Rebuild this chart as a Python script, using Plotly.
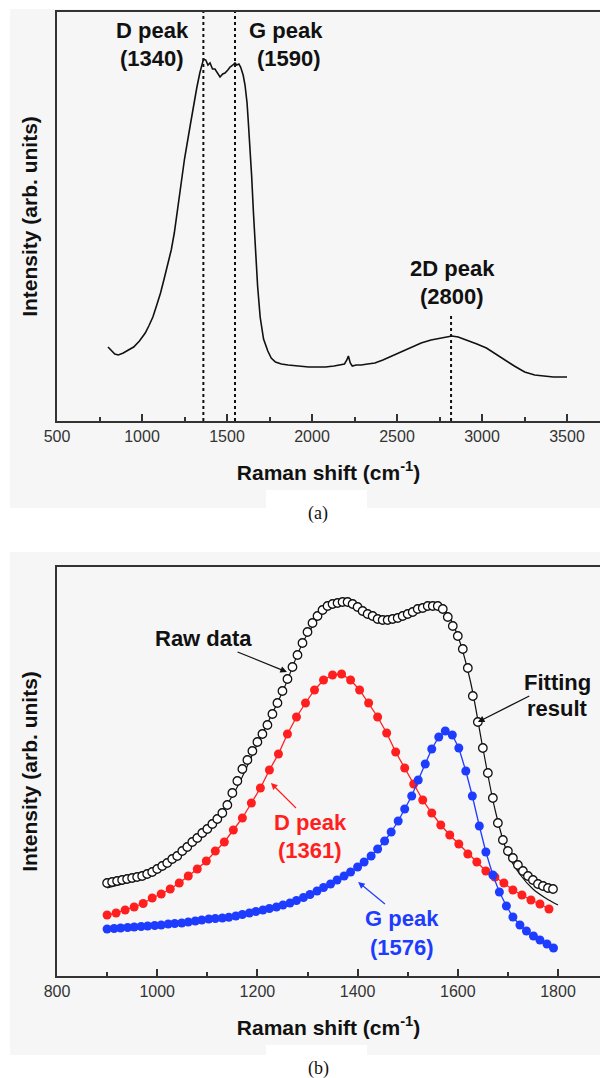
import plotly.graph_objects as go

W, H = 600, 1078

# ---------------- Panel (a) data : Raman spectrum ----------------
a_shift = [800, 820, 840, 861, 890, 920, 951, 985, 1019, 1040, 1064, 1085, 1109, 1130, 1154, 1172,
           1190, 1224, 1250, 1282, 1300, 1322, 1340, 1351, 1362, 1375, 1388, 1400, 1415, 1429, 1445,
           1459, 1475, 1488, 1505, 1518, 1535, 1547, 1557, 1570, 1580, 1595, 1606, 1618, 1625, 1635,
           1645, 1655, 1665, 1680, 1695, 1715, 1740, 1760, 1785, 1820, 1860, 1921, 1980, 2030, 2079,
           2130, 2170, 2191, 2205, 2214, 2225, 2237, 2260, 2290, 2327, 2370, 2417, 2470, 2530, 2590,
           2642, 2700, 2755, 2790, 2823, 2860, 2913, 2970, 3026, 3080, 3139, 3190, 3251, 3310, 3364,
           3420, 3470, 3500]
a_int = [74, 70, 67, 66, 68, 71, 74, 80, 88, 95, 104, 115, 128, 142, 158, 171,
         188, 230, 262, 294, 313, 333, 348, 356, 362, 361, 356, 358, 352, 352, 348,
         344, 347, 348, 351, 354, 356, 358, 356, 357, 354, 346, 336, 318, 300, 275,
         245, 210, 178, 135, 104, 82, 70, 63, 59, 57, 56, 55, 54, 54, 54,
         55, 56, 57, 61, 65, 58, 55, 56, 56, 57, 58, 61, 65, 69, 74,
         78, 81, 83, 84, 85, 84, 81, 77, 73, 67, 61, 55, 49, 46, 45,
         44, 44, 44]
a_peak_pos = [1361, 1547, 2818]          # dotted marker lines
a_peak_top = [409, 409, 106]
a_ticks = [500, 1000, 1500, 2000, 2500, 3000, 3500]

# ---------------- Panel (b) data : peak fitting ----------------
raw_x = [900, 910, 920, 930, 940, 950, 960, 970, 980, 990, 1000, 1010, 1020, 1030, 1040, 1050,
         1060, 1070, 1080, 1090, 1100, 1110, 1120, 1130, 1140, 1150, 1160, 1170, 1180, 1190, 1200,
         1210, 1220, 1230, 1240, 1250, 1260, 1270, 1280, 1290, 1300, 1310, 1320, 1330, 1340, 1350,
         1360, 1370, 1380, 1390, 1400, 1410, 1420, 1430, 1440, 1450, 1460, 1470, 1480, 1490, 1500,
         1510, 1520, 1530, 1540, 1550, 1560, 1570, 1580, 1590, 1600, 1610, 1620, 1630, 1640, 1650,
         1660, 1670, 1680, 1690, 1700, 1710, 1720, 1730, 1740, 1750, 1760, 1770, 1780, 1790]
raw_y = [93, 94, 95, 96, 97, 98, 99, 100, 102, 104, 107, 110, 113, 117, 120, 125,
         129, 134, 138, 143, 147, 152, 157, 163, 171, 183, 195, 207, 216, 225, 234,
         242, 251, 262, 273, 285, 297, 309, 321, 333, 344, 353, 360, 366, 370, 372,
         373, 374, 374, 372, 369, 365, 362, 360, 357, 356, 356, 357, 358, 360, 362,
         364, 367, 368, 370, 370, 370, 367, 359, 350, 340, 327, 308, 280, 254, 228,
         203, 178, 153, 136, 125, 118, 111, 105, 100, 96, 92, 90, 88, 87]

fit_x = [900, 950, 1000, 1050, 1100, 1150, 1200, 1250, 1300, 1350, 1400, 1450, 1500, 1550, 1575,
         1600, 1625, 1650, 1675, 1700, 1725, 1750, 1775, 1800]
fit_y = [88, 95, 105, 123, 146, 180, 232, 284, 342, 370, 368, 357, 362, 369, 365,
         340, 295, 228, 165, 122, 101, 87, 78, 71]

d_x = [900, 918, 936, 954, 972, 990, 1008, 1026, 1044, 1062, 1080, 1098, 1116, 1134, 1152, 1170,
       1188, 1206, 1224, 1242, 1260, 1278, 1296, 1314, 1332, 1350, 1368, 1386, 1404, 1422, 1440,
       1458, 1476, 1494, 1512, 1530, 1548, 1566, 1584, 1602, 1620, 1638, 1656, 1674, 1692, 1710,
       1728, 1746, 1764, 1782]
d_y = [61, 63, 66, 69, 72.5, 78, 82, 87, 93, 100, 107, 115, 125, 134, 146, 158,
       173, 188, 206, 222, 242, 259, 273, 286, 296, 301, 302, 296, 286, 273, 259,
       243, 224, 208, 192, 176, 163, 151, 141, 132, 122, 114, 105, 99, 93, 86,
       81, 76, 72, 67]

g_x = [900, 914, 927, 941, 954, 968, 981, 995, 1008, 1022, 1035, 1049, 1062, 1076, 1089, 1103,
       1116, 1130, 1143, 1157, 1170, 1184, 1197, 1211, 1224, 1238, 1251, 1265, 1278, 1292, 1305,
       1319, 1332, 1346, 1359, 1373, 1386, 1400, 1413, 1427, 1440, 1454, 1467, 1481, 1494, 1508,
       1521, 1535, 1548, 1562, 1575, 1589, 1602, 1616, 1629, 1643, 1656, 1670, 1683, 1697, 1710,
       1724, 1737, 1751, 1764, 1778, 1791]
g_y = [47, 47.5, 48, 48.5, 49, 49.5, 50, 50.5, 51, 52, 52.5, 53, 54, 55, 56, 57,
       57.5, 58, 58.7, 60, 61.5, 63, 64.5, 66, 67.5, 69, 71, 73, 75.5, 78.5, 81.5,
       85, 88.5, 92, 96, 100, 104, 109, 114, 120, 127, 135, 144, 155, 167, 180,
       196, 212, 227, 239, 245, 241, 228, 205, 180, 150, 124, 101, 84, 70, 59,
       51, 45, 40, 36, 32, 28]
b_ticks = [800, 1000, 1200, 1400, 1600, 1800]

# ---------------- styling ----------------
SANS = "Arial, 'Liberation Sans', Helvetica, sans-serif"
SERIF = "'Times New Roman', 'Liberation Serif', serif"
RED = "#ff1f1f"
BLUE = "#1d3cff"
AX = "#333333"
LBL = 22


def PX(x):
    return x / W


def PY(y):
    return 1 - y / H


fig = go.Figure()

fig.add_trace(go.Scatter(x=a_shift, y=a_int, mode="lines", line=dict(color="#111111", width=1.6),
                         xaxis="x", yaxis="y", showlegend=False))

fig.add_trace(go.Scatter(x=fit_x, y=fit_y, mode="lines", line=dict(color="#111111", width=1.2, shape="spline"),
                         xaxis="x2", yaxis="y2", showlegend=False))
fig.add_trace(go.Scatter(x=d_x, y=d_y, mode="lines+markers", line=dict(color=RED, width=1.3),
                         marker=dict(color=RED, size=9), xaxis="x2", yaxis="y2", showlegend=False))
fig.add_trace(go.Scatter(x=g_x, y=g_y, mode="lines+markers", line=dict(color=BLUE, width=1.3),
                         marker=dict(color=BLUE, size=9), xaxis="x2", yaxis="y2", showlegend=False))
fig.add_trace(go.Scatter(x=raw_x, y=raw_y, mode="markers",
                         marker=dict(color="white", size=8.5, line=dict(color="#111111", width=1.3)),
                         xaxis="x2", yaxis="y2", showlegend=False))

shapes = [
    dict(type="rect", xref="paper", yref="paper", x0=PX(10), x1=1, y0=PY(508), y1=PY(9),
         fillcolor="#f6f6f6", line=dict(width=0), layer="below"),
    dict(type="rect", xref="paper", yref="paper", x0=PX(10), x1=1, y0=PY(1055), y1=PY(552),
         fillcolor="#f6f6f6", line=dict(width=0), layer="below"),
    dict(type="rect", xref="paper", yref="paper", x0=PX(266), x1=PX(367), y0=PY(530), y1=PY(490),
         fillcolor="white", line=dict(width=0), layer="below"),
    dict(type="rect", xref="paper", yref="paper", x0=PX(266), x1=PX(367), y0=PY(1078), y1=PY(1045),
         fillcolor="white", line=dict(width=0), layer="below"),
]
for xp, top in zip(a_peak_pos, a_peak_top):
    shapes.append(dict(type="line", xref="x", yref="y", x0=xp, x1=xp, y0=0, y1=top,
                       line=dict(color="#111111", width=2, dash="dot")))

ann = []


def txt(s, x, y, size=LBL, color="#111111", bold=True, family=SANS):
    ann.append(dict(text=("<b>%s</b>" % s) if bold else s, xref="paper", yref="paper",
                    x=PX(x), y=PY(y), xanchor="center", yanchor="middle", showarrow=False,
                    font=dict(family=family, size=size, color=color)))


def arrow_txt(s, tx, ty, hx, hy, color="#111111"):
    # text centred at pixel (tx, ty); arrow head at data point (hx, hy) of panel (b)
    hpx = 57 + (hx - 800) * 501 / 1000
    hpy = 976 - hy
    ann.append(dict(text="<b>%s</b>" % s, x=hx, y=hy, xref="x2", yref="y2",
                    ax=tx - hpx, ay=ty - hpy, showarrow=True, arrowhead=2, arrowsize=1.1,
                    arrowwidth=1.2, arrowcolor=color,
                    font=dict(family=SANS, size=LBL, color=color)))


# panel (a) texts
txt("D peak", 152, 30)
txt("(1340)", 152, 58)
txt("G peak", 286, 30)
txt("(1590)", 289, 58)
txt("2D peak", 452, 268)
txt("(2800)", 452, 297)
txt("(a)", 318, 513, size=18, bold=False, family=SERIF)

# panel (b) texts
arrow_txt("Raw data", 203, 638, 1259, 304)
arrow_txt("Fitting", 557, 682, 1640, 254)
txt("result", 557, 708)
arrow_txt("D peak", 310, 822, 1227, 193, RED)
txt("(1361)", 310, 850, color=RED)
arrow_txt("G peak", 402, 918, 1401, 94, BLUE)
txt("(1576)", 402, 947, color=BLUE)
txt("(b)", 318, 1068, size=18, bold=False, family=SERIF)

XTITLE = dict(text="<b>Raman shift (cm<sup>-1</sup>)</b>", font=dict(family=SANS, size=21, color="#111111"),
              standoff=21)
YTITLE = dict(text="<b>Intensity (arb. units)</b>", font=dict(family=SANS, size=21, color="#111111"),
              standoff=12)

common_x = dict(showline=True, linecolor=AX, linewidth=1.6, mirror=True, showgrid=False, zeroline=False,
                ticks="inside", ticklen=7, tickwidth=1.5, tickcolor=AX, automargin=False,
                tickfont=dict(family=SANS, size=16, color="#333333"), title=XTITLE)
common_y = dict(showline=True, linecolor=AX, linewidth=1.6, mirror=False, showgrid=False, zeroline=False,
                showticklabels=False, ticks="", range=[0, 409], automargin=False, title=YTITLE)

fig.update_layout(
    width=W, height=H, margin=dict(l=0, r=0, t=0, b=0),
    paper_bgcolor="white", plot_bgcolor="#fbfbfb",
    xaxis=dict(domain=[PX(57), 1], range=[500, 500 + 543 * 1000 / 170], anchor="y",
               tickvals=a_ticks, minor=dict(ticks="inside", ticklen=4, tickwidth=1.5, tickcolor=AX,
                                            tickvals=[750, 1250, 1750, 2250, 2750, 3250]),
               **common_x),
    yaxis=dict(domain=[PY(421), PY(12)], anchor="x", **common_y),
    xaxis2=dict(domain=[PX(57), 1], range=[800, 800 + 543 * 1000 / 501], anchor="y2",
                tickvals=b_ticks, minor=dict(ticks="inside", ticklen=4, tickwidth=1.5, tickcolor=AX,
                                             tickvals=[900, 1100, 1300, 1500, 1700]),
                **common_x),
    yaxis2=dict(domain=[PY(976), PY(567)], anchor="x2", **common_y),
    shapes=shapes, annotations=ann,
)

fig.write_html("out.html")
